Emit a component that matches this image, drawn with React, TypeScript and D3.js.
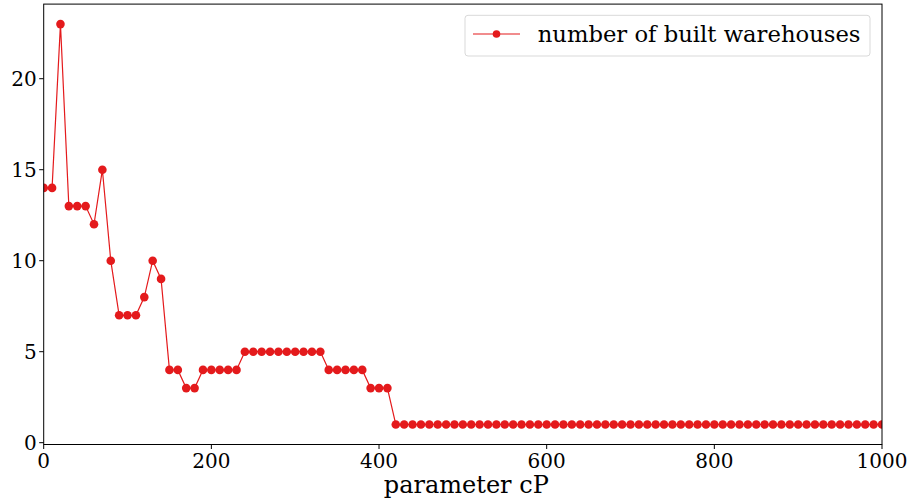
import React from "react";
import * as d3 from "d3";

const xValues: number[] = d3.range(0, 1001, 10);
const yValues: number[] = [
  14, 14, 23, 13, 13, 13, 12, 15, 10, 7,
  7, 7, 8, 10, 9, 4, 4, 3, 3, 4,
  4, 4, 4, 4, 5, 5, 5, 5, 5, 5,
  5, 5, 5, 5, 4, 4, 4, 4, 4, 3,
  3, 3, 1, 1, 1, 1, 1, 1, 1, 1,
  1, 1, 1, 1, 1, 1, 1, 1, 1, 1,
  1, 1, 1, 1, 1, 1, 1, 1, 1, 1,
  1, 1, 1, 1, 1, 1, 1, 1, 1, 1,
  1, 1, 1, 1, 1, 1, 1, 1, 1, 1,
  1, 1, 1, 1, 1, 1, 1, 1, 1, 1,
  1,
];
const xTicks: number[] = [0, 200, 400, 600, 800, 1000];
const yTicks: number[] = [0, 5, 10, 15, 20];
const seriesLabel = "number of built warehouses";
const xLabel = "parameter cP";

const W = 912;
const H = 499;
const left = 43.7;
const right = 882;
const top = 4.1;
const bottom = 444.5;
const color = "#e41a1c";
const font = "DejaVu Serif";

export default function App() {
  const x = d3.scaleLinear().domain([0, 1000]).range([left, right]);
  const y = d3.scaleLinear().domain([-0.1, 24.1]).range([bottom, top]);
  const pts = xValues.map((v, i) => [v, yValues[i]] as [number, number]);
  const line = d3
    .line<[number, number]>()
    .x((d) => x(d[0]))
    .y((d) => y(d[1]));

  return (
    <svg
      width={W}
      height={H}
      style={{ position: "absolute", left: 0, top: 0, background: "#fff" }}
    >
      <defs>
        <clipPath id="plot">
          <rect x={left} y={top} width={right - left} height={bottom - top} />
        </clipPath>
      </defs>
      <g clipPath="url(#plot)">
        <path d={line(pts) || ""} fill="none" stroke={color} strokeWidth={1.2} />
        {pts.map((d, i) => (
          <circle key={i} cx={x(d[0])} cy={y(d[1])} r={4.3} fill={color} />
        ))}
      </g>
      <rect
        x={left}
        y={top}
        width={right - left}
        height={bottom - top}
        fill="none"
        stroke="#000"
        strokeWidth={1}
      />
      {xTicks.map((t) => (
        <g key={"x" + t}>
          <line x1={x(t)} x2={x(t)} y1={bottom} y2={bottom + 4.5} stroke="#000" strokeWidth={1} />
          <text
            x={x(t)}
            y={bottom + 23}
            textAnchor="middle"
            fontFamily={font}
            fontSize={20}
            fill="#000"
          >
            {t}
          </text>
        </g>
      ))}
      {yTicks.map((t) => (
        <g key={"y" + t}>
          <line x1={left - 4.5} x2={left} y1={y(t)} y2={y(t)} stroke="#000" strokeWidth={1} />
          <text
            x={left - 7}
            y={y(t)}
            dy="0.36em"
            textAnchor="end"
            fontFamily={font}
            fontSize={20}
            fill="#000"
          >
            {t}
          </text>
        </g>
      ))}
      <text
        x={(left + right) / 2 + 3.5}
        y={492.5}
        textAnchor="middle"
        fontFamily={font}
        fontSize={24}
        fill="#000"
      >
        {xLabel}
      </text>
      <g>
        <rect
          x={465}
          y={15.3}
          width={405}
          height={40.7}
          rx={3}
          fill="#fff"
          fillOpacity={0.8}
          stroke="#d9d9d9"
          strokeWidth={1}
        />
        <line x1={473} x2={520} y1={34} y2={34} stroke={color} strokeWidth={1.2} />
        <circle cx={496.5} cy={34} r={3.8} fill={color} />
        <text x={537.7} y={42} fontFamily={font} fontSize={22.7} fill="#000">
          {seriesLabel}
        </text>
      </g>
    </svg>
  );
}
